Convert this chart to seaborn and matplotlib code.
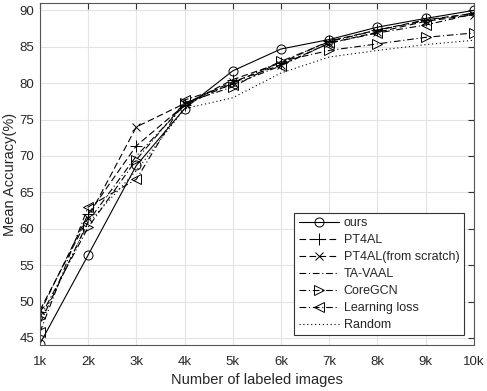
import pandas as pd
import seaborn as sns
import matplotlib.pyplot as plt

# labeled images (k)
budget = [1, 2, 3, 4, 5, 6, 7, 8, 9, 10]
tick_labels = ["1k", "2k", "3k", "4k", "5k", "6k", "7k", "8k", "9k", "10k"]

ours = [44.2, 56.4, 68.7, 76.5, 81.7, 84.7, 86.0, 87.7, 88.9, 90.0]
pt4al = [48.5, 62.0, 71.4, 77.0, 80.5, 82.8, 85.8, 87.3, 88.7, 89.6]
pt4al_scratch = [48.8, 61.5, 74.0, 77.2, 80.2, 82.5, 85.5, 87.0, 88.5, 89.4]
ta_vaal = [47.0, 61.0, 70.0, 77.0, 80.0, 83.0, 85.7, 87.3, 88.6, 89.6]
coregcn = [47.8, 60.2, 69.5, 77.3, 79.5, 83.0, 84.5, 85.4, 86.3, 86.9]
learning_loss = [45.8, 63.0, 66.8, 77.7, 79.8, 82.4, 85.5, 86.9, 88.0, 89.5]
random_sel = [47.3, 60.8, 68.0, 76.5, 78.0, 81.4, 83.6, 84.5, 85.3, 85.9]

series = [
    ("ours", ours, "o", 6.5, (None, None)),
    ("PT4AL", pt4al, "+", 8, (6, 3)),
    ("PT4AL(from scratch)", pt4al_scratch, "x", 5.5, (6, 3)),
    ("TA-VAAL", ta_vaal, None, 6, (6, 2.5, 1, 2.5)),
    ("CoreGCN", coregcn, ">", 7, (6, 2.5, 1, 2.5)),
    ("Learning loss", learning_loss, "<", 7, (6, 2.5, 1, 2.5)),
    ("Random", random_sel, None, 6, (1, 2.5)),
]

sns.set_style("whitegrid")
plt.rcParams['font.family'] = ['Liberation Sans', 'DejaVu Sans']

fig = plt.figure(figsize=(4.87, 3.91), dpi=100)
ax = fig.add_axes([0.082, 0.117, 0.891, 0.875])

for name, vals, mk, ms, dash in series:
    df = pd.DataFrame({"x": budget, "y": vals})
    sns.lineplot(data=df, x="x", y="y", ax=ax, color="black", lw=0.8,
                 marker=mk if mk else "", markersize=ms,
                 markerfacecolor="none", markeredgecolor="black",
                 markeredgewidth=0.7, label=name)
    l = ax.get_lines()[-1]
    if dash[0] is None:
        l.set_linestyle("-")
    else:
        l.set_dashes(dash)

ax.set_xlim(1, 10)
ax.set_ylim(44, 91)
ax.set_xticks(budget)
ax.set_xticklabels(tick_labels)
ax.set_yticks(range(45, 91, 5))
ax.set_xlabel("Number of labeled images", fontsize=10.5, labelpad=3)
ax.set_ylabel("Mean Accuracy(%)", fontsize=10.5, labelpad=2)
ax.tick_params(labelsize=9.5, direction="in", length=4, color="#333333",
               top=True, right=True)
ax.tick_params(axis="x", pad=8)
ax.tick_params(axis="y", pad=4)
ax.grid(True, color="#e3e3e3", lw=0.8)
for s in ax.spines.values():
    s.set_color("#555555")
    s.set_linewidth(0.8)
    s.set_visible(True)

leg = ax.legend(loc="lower right", fontsize=9, frameon=True, fancybox=False,
                edgecolor="#333333", framealpha=1, handlelength=3.2,
                borderpad=0.35, labelspacing=0.4, handletextpad=0.4,
                borderaxespad=0.8)
leg.get_frame().set_linewidth(0.8)

fig.savefig("out.png", dpi=100)
